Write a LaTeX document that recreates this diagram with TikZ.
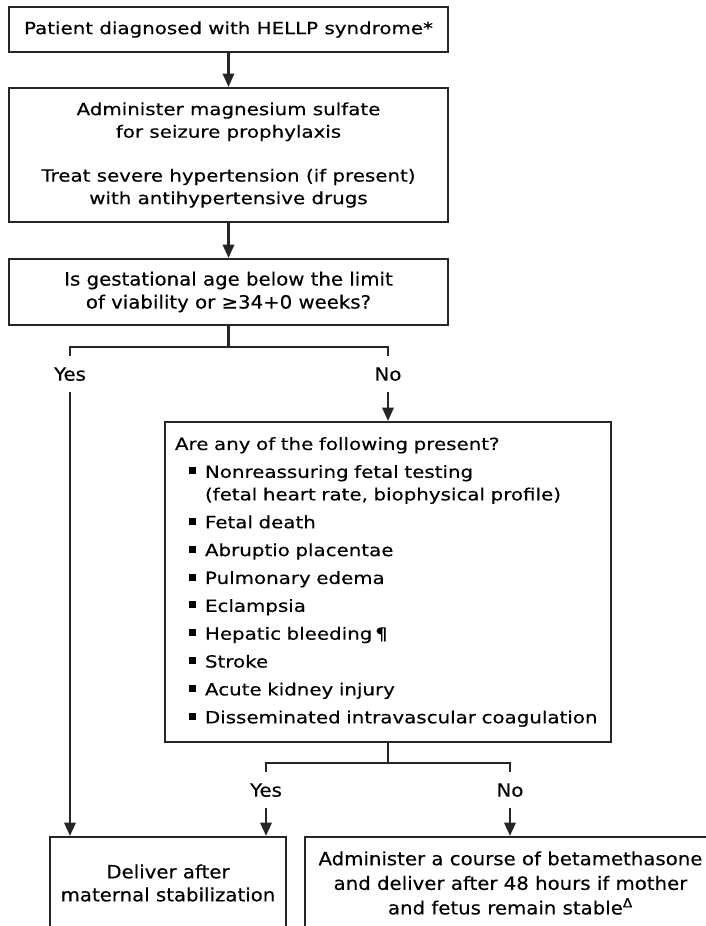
\documentclass[tikz,border=0pt]{standalone}
\usepackage{fontspec}
\newfontfamily\verdfont{DejaVu Sans}[FakeStretch=1.18, FakeBold=0.35]
\newfontfamily\tahofont{DejaVu Sans}[FakeStretch=1.08, FakeBold=0.35]
\usetikzlibrary{arrows.meta}

% one pixel of the layout grid
\def\pix{0.75pt}
% square bullet and hanging indent for the list
\newcommand{\sqitem}{\hspace*{10.5pt}\rule[2.6pt]{5.25pt}{5.25pt}\hspace{6.75pt}}
\newcommand{\sqindent}{\hspace*{22.5pt}}

\begin{document}
\begin{tikzpicture}[x=\pix, y=-\pix,
    box/.style={draw=black!85, line width=1.6pt, inner sep=0pt, align=center},
    vbox/.style={box, font=\verdfont\fontsize{12.6pt}{16.9pt}\selectfont},
    tbox/.style={box, font=\tahofont\fontsize{13.7pt}{17.25pt}\selectfont},
    answer/.style={font=\tahofont\fontsize{13.7pt}{17pt}\selectfont,
        text height=10pt, text depth=0pt, inner xsep=0pt, inner ysep=8.5pt},
    link/.style={draw=black!85, line width=1.6pt},
    arrow/.style={link, -{Triangle[length=10pt, width=8.5pt]}}]

    % Page frame
    \useasboundingbox (0,0) rectangle (706,926);
    \clip (0,0) rectangle (706,926);
    \fill[white] (0,0) rectangle (706,926);

    % Boxes
    \node[vbox, minimum width=439*\pix, minimum height=45*\pix] (diag) at (228.5,29.5)
        {Patient diagnosed with HELLP syndrome*};
    \node[vbox, minimum width=439*\pix, minimum height=134*\pix] (manage) at (228.5,155)
        {Administer magnesium sulfate\\for seizure prophylaxis\\[16pt]
         Treat severe hypertension (if present)\\with antihypertensive drugs};
    \node[tbox, minimum width=439*\pix, minimum height=66*\pix] (gest) at (228.5,292)
        {Is gestational age below the limit\\of viability or ≥34+0 weeks?};
    \node[vbox, align=left, minimum width=446*\pix, minimum height=320*\pix,
          text width=426*\pix] (present) at (388,582)
        {Are any of the following present?\\[4pt]
         \sqitem Nonreassuring fetal testing\\
         \sqindent (fetal heart rate, biophysical profile)\\[4pt]
         \sqitem Fetal death\\[4pt]
         \sqitem Abruptio placentae\\[4pt]
         \sqitem Pulmonary edema\\[4pt]
         \sqitem Eclampsia\\[4pt]
         \sqitem Hepatic bleeding\,¶\\[4pt]
         \sqitem Stroke\\[4pt]
         \sqitem Acute kidney injury\\[4pt]
         \sqitem Disseminated intravascular coagulation};
    \node[tbox, minimum width=236*\pix, minimum height=92*\pix] (deliver) at (168,883)
        {Deliver after\\maternal stabilization};
    \node[tbox, minimum width=411*\pix, minimum height=92*\pix] (steroid) at (510.5,883)
        {Administer a course of betamethasone\\[1.2pt]and deliver after 48 hours if mother\\[1.2pt]
         and fetus remain stable\textsuperscript{Δ}};

    % Answers
    \node[answer] (yes1) at (70,374) {Yes};
    \node[answer] (no1) at (388,374) {No};
    \node[answer] (yes2) at (266,790) {Yes};
    \node[answer] (no2) at (510,790) {No};

    % Connectors
    \draw[arrow] (diag) -- (manage);
    \draw[arrow] (manage) -- (gest);
    \draw[link] (gest.south) -- ++(0,21) coordinate (fork1);
    \draw[link] (yes1.north) |- (fork1) -| (no1.north);
    \draw[arrow] (no1) -- (present);
    \draw[arrow] (yes1.south) -- (yes1.south |- deliver.north);
    \draw[link] (present.south) -- ++(0,20) coordinate (fork2);
    \draw[link] (yes2.north) |- (fork2) -| (no2.north);
    \draw[arrow] (yes2.south) -- (yes2.south |- deliver.north);
    \draw[arrow] (no2.south) -- (no2.south |- steroid.north);

\end{tikzpicture}
\end{document}
